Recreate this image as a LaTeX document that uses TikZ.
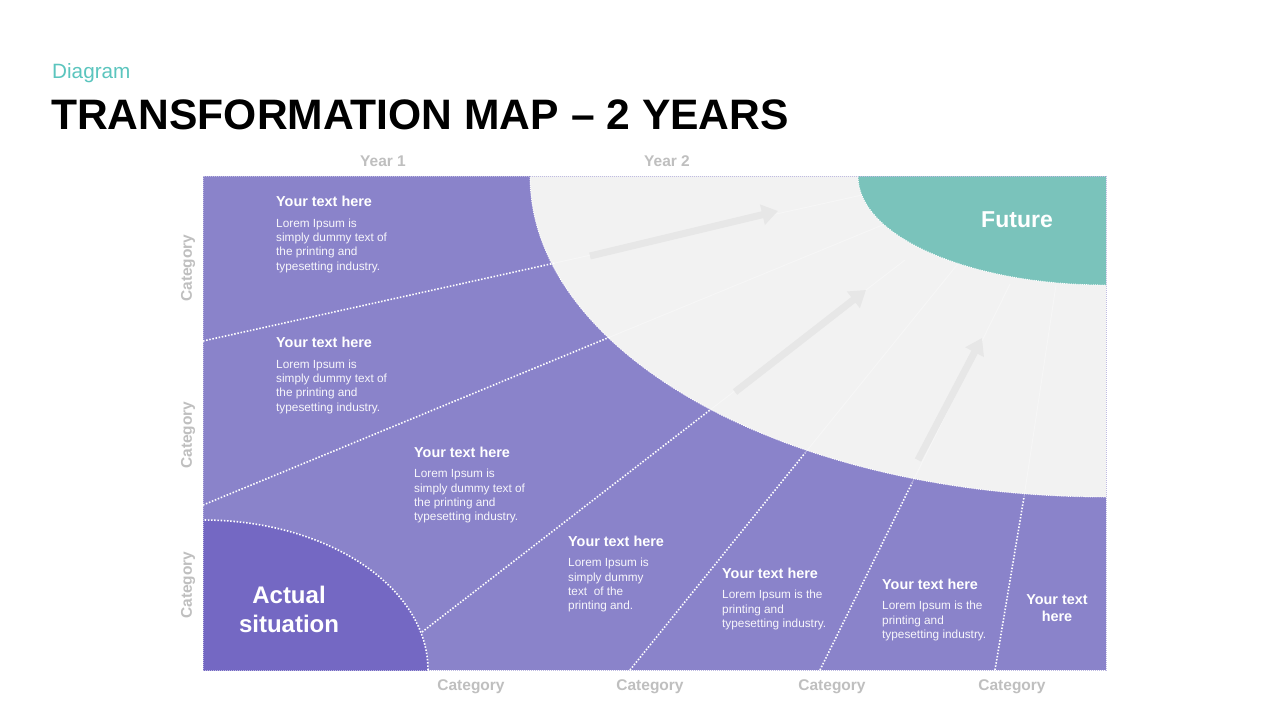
\documentclass[tikz,border=0pt]{standalone}
\usepackage{fontspec}
\setmainfont{Liberation Sans}
\usetikzlibrary{arrows.meta}
\definecolor{purp}{HTML}{8A83CA}
\definecolor{purpdark}{HTML}{7468C3}
\definecolor{futurecol}{HTML}{7AC3BB}
\definecolor{lightg}{HTML}{F2F2F2}
\definecolor{labelg}{HTML}{BFBFBF}
\definecolor{diagteal}{HTML}{5BC5BE}
\definecolor{arrowg}{HTML}{E7E7E7}
\begin{document}
\begin{tikzpicture}[x=1pt,y=-1pt,
  divider/.style={white, line width=1.6pt, dash pattern=on 1.5pt off 1.7pt},
  edgedots/.style={white, line width=0.9pt, dash pattern=on 1pt off 1.2pt},
  faint/.style={white, line width=0.9pt, opacity=0.35},
  ttl/.style={font=\bfseries\fontsize{14.4}{16}\selectfont, text=white, anchor=base west, inner sep=0},
  body/.style={font=\fontsize{11.8}{14.3}\selectfont, text=white!93!purp, anchor=north west, align=left, inner sep=0},
  cat/.style={font=\bfseries\fontsize{15.5}{18}\selectfont, text=labelg, inner sep=0},
  flow/.style={arrowg, line width=7pt, -{Triangle[length=16pt,width=20pt]}}
]
\useasboundingbox (0,0) rectangle (1280,720);
\fill[white] (0,0) rectangle (1280,720);

% header
\node[font=\fontsize{20.7}{24}\selectfont, text=diagteal, anchor=base west, inner sep=0] (diag) at (52,78.5) {Diagram};
\node[font=\bfseries\fontsize{42.6}{48}\selectfont, text=black, anchor=base west, inner sep=0] (title) at (51,129) {TRANSFORMATION MAP – 2 YEARS};
\node[cat] (y1) at (383,161) {Year 1};
\node[cat] (y2) at (667,161) {Year 2};

% panel
\coordinate (ptl) at (203,176);
\coordinate (pbr) at (1106,670);
\fill[purp] (ptl) rectangle (pbr);
\begin{scope}
  \clip (ptl) rectangle (pbr);
  \fill[lightg] (1106,176) ellipse [x radius=576pt, y radius=321pt];
  \draw[edgedots] (1106,176) ellipse [x radius=576pt, y radius=321pt];
  % faint continuations
  \coordinate (f1a) at (555,263); \coordinate (f1b) at (862,195);
  \coordinate (f2a) at (610,337); \coordinate (f2b) at (885,224);
  \coordinate (f3a) at (710,410); \coordinate (f3b) at (905,260);
  \coordinate (f4a) at (805,453); \coordinate (f4b) at (965,255);
  \coordinate (f5a) at (912,483); \coordinate (f5b) at (1010,284);
  \coordinate (f6a) at (1024,497); \coordinate (f6b) at (1056,285);
  \foreach \i in {1,...,6} {\draw[faint] (f\i a) -- (f\i b);}
  % arrows
  \coordinate (a1s) at (590,256); \coordinate (a1e) at (778,211);
  \coordinate (a2s) at (735,392); \coordinate (a2e) at (866,290);
  \coordinate (a3s) at (918,460); \coordinate (a3e) at (982,338);
  \draw[flow] (a1s) -- (a1e);
  \draw[flow] (a2s) -- (a2e);
  \draw[flow] (a3s) -- (a3e);
  % future
  \fill[futurecol] (1106,176) ellipse [x radius=248pt, y radius=109pt];
  \draw[edgedots] (1106,176) ellipse [x radius=248pt, y radius=109pt];
  % actual situation
  \fill[purpdark] (203,670) ellipse [x radius=225pt, y radius=150pt];
  \draw[divider] (203,670) ellipse [x radius=225pt, y radius=150pt];
\end{scope}
\draw[purp!55!white, line width=1pt, dash pattern=on 1pt off 1pt] (ptl) rectangle (pbr);

% dividers
\coordinate (d1a) at (203,341); \coordinate (d1b) at (555,263);
\coordinate (d2a) at (203,505); \coordinate (d2b) at (610,337);
\coordinate (d3a) at (422,632); \coordinate (d3b) at (710,410);
\coordinate (d4a) at (630,670); \coordinate (d4b) at (805,453);
\coordinate (d5a) at (820,670); \coordinate (d5b) at (912,483);
\coordinate (d6a) at (995,670); \coordinate (d6b) at (1024,497);
\foreach \i in {1,...,6} {\draw[divider] (d\i a) -- (d\i b);}

% big labels
\node[font=\bfseries\fontsize{23}{27}\selectfont, text=white, inner sep=0] (future) at (1017,220) {Future};
\node[font=\bfseries\fontsize{24}{29}\selectfont, text=white, align=center, inner sep=0] (actual) at (289,609) {Actual\\situation};

% text blocks
\node[ttl] (t1) at (276,206) {Your text here};
\node[body] (b1) at (276,218.5) {Lorem Ipsum is\\simply dummy text of\\the printing and\\typesetting industry.};
\node[ttl] (t2) at (276,347) {Your text here};
\node[body] (b2) at (276,359.5) {Lorem Ipsum is\\simply dummy text of\\the printing and\\typesetting industry.};
\node[ttl] (t3) at (414,457) {Your text here};
\node[body] (b3) at (414,469) {Lorem Ipsum is\\simply dummy text of\\the printing and\\typesetting industry.};
\node[ttl] (t4) at (568,546) {Your text here};
\node[body] (b4) at (568,558) {Lorem Ipsum is\\simply dummy\\text~ of the\\printing and.};
\node[ttl] (t5) at (722,578) {Your text here};
\node[body] (b5) at (722,590) {Lorem Ipsum is the\\printing and\\typesetting industry.};
\node[ttl] (t6) at (882,589) {Your text here};
\node[body] (b6) at (882,601) {Lorem Ipsum is the\\printing and\\typesetting industry.};
\node[font=\bfseries\fontsize{14.4}{17}\selectfont, text=white, align=center, inner sep=0] (t7) at (1057,608) {Your text\\here};

% category labels
\node[cat, rotate=90] (cl1) at (188,268) {Category};
\node[cat, rotate=90] (cl2) at (188,435) {Category};
\node[cat, rotate=90] (cl3) at (188,585) {Category};
\node[cat] (cb1) at (471,687) {Category};
\node[cat] (cb2) at (650,687) {Category};
\node[cat] (cb3) at (832,687) {Category};
\node[cat] (cb4) at (1012,687) {Category};
\end{tikzpicture}
\end{document}
